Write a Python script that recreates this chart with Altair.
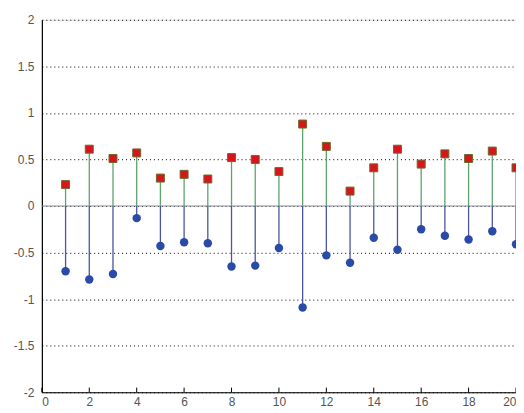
import altair as alt
import pandas as pd

x_vals = list(range(1, 21))
pos_vals = [0.23, 0.61, 0.51, 0.57, 0.30, 0.34, 0.29, 0.52, 0.50, 0.37,
            0.88, 0.64, 0.16, 0.41, 0.61, 0.45, 0.56, 0.51, 0.59, 0.41]
neg_vals = [-0.70, -0.79, -0.73, -0.13, -0.43, -0.39, -0.40, -0.65, -0.64, -0.45,
            -1.09, -0.53, -0.61, -0.34, -0.47, -0.25, -0.32, -0.36, -0.27, -0.41]
x_ticks = list(range(0, 21, 2))
y_ticks = [-2, -1.5, -1, -0.5, 0, 0.5, 1, 1.5, 2]

df = pd.DataFrame({"x": x_vals, "pos": pos_vals, "neg": neg_vals, "base": [0] * 20})
ticks_df = pd.DataFrame({"t": x_ticks, "y0": [-2] * len(x_ticks), "y1": [-1.95] * len(x_ticks)})

xs = alt.Scale(domain=[0, 20], nice=False, zero=False)
ys = alt.Scale(domain=[-2, 2], nice=False)

x_axis = alt.Axis(values=x_ticks, grid=False, tickSize=0, labelPadding=4,
                  domainColor="#000", domainWidth=1.2, labelFont="Liberation Sans",
                  labelFontSize=12, labelColor="#555", title=None)
y_axis = alt.Axis(values=y_ticks, grid=True, gridDash=[1, 3], gridColor="#000",
                  gridWidth=1, tickSize=0, labelPadding=8, domainColor="#000",
                  domainWidth=1.2, labelFont="Liberation Sans", labelFontSize=12,
                  labelColor="#555", labelExpr="datum.value + ''", title=None)

base = alt.Chart(df)

frame = base.mark_point(opacity=0).encode(
    x=alt.X("x:Q", scale=xs, axis=x_axis),
    y=alt.Y("pos:Q", scale=ys, axis=y_axis),
)

zero = alt.Chart(pd.DataFrame({"z": [0]})).mark_rule(color="#8a8f94", strokeWidth=1.2).encode(
    y=alt.Y("z:Q", scale=ys)
)

inticks = alt.Chart(ticks_df).mark_rule(color="#000", strokeWidth=1).encode(
    x=alt.X("t:Q", scale=xs), y=alt.Y("y0:Q", scale=ys), y2="y1:Q"
)

stem_pos = base.mark_rule(color="#5ea36e", strokeWidth=1.3).encode(
    x=alt.X("x:Q", scale=xs), y=alt.Y("base:Q", scale=ys), y2="pos:Q"
)
stem_neg = base.mark_rule(color="#4c54a0", strokeWidth=1.3).encode(
    x=alt.X("x:Q", scale=xs), y=alt.Y("base:Q", scale=ys), y2="neg:Q"
)

squares = base.mark_square(size=64, fill="#d8141c", stroke="#6e6a28", strokeWidth=1, opacity=1).encode(
    x=alt.X("x:Q", scale=xs), y=alt.Y("pos:Q", scale=ys)
)
circles = base.mark_circle(size=72, color="#2a4aa8", opacity=1).encode(
    x=alt.X("x:Q", scale=xs), y=alt.Y("neg:Q", scale=ys)
)

chart = alt.layer(frame, zero, inticks, stem_pos, stem_neg, squares, circles).properties(
    width=476, height=374,
    autosize=alt.AutoSizeParams(type="none"),
    padding={"left": 34, "top": 11, "right": 0, "bottom": 16},
).configure_view(stroke=None).configure(background="white")

chart.save("out.html", embed_options={"renderer": "svg", "actions": False})
